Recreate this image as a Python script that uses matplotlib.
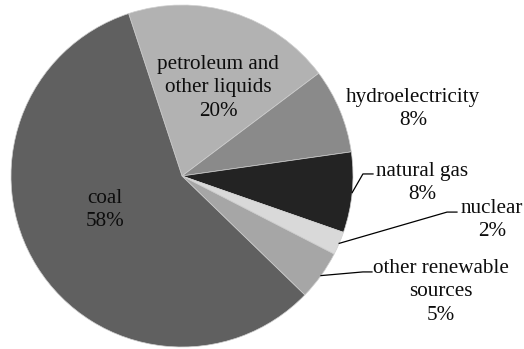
import numpy as np
import matplotlib.pyplot as plt

plt.rcParams['font.family'] = ['Liberation Serif', 'DejaVu Serif']

labels = ['petroleum and\nother liquids', 'hydroelectricity', 'natural gas',
          'nuclear', 'other renewable\nsources', 'coal']
shares = [19.8, 8.0, 7.6, 2.2, 4.7, 57.7]
pct_text = ['20%', '8%', '8%', '2%', '5%', '58%']
colors = ['#b2b2b2', '#8a8a8a', '#232323', '#d9d9d9', '#a6a6a6', '#606060']

# label centres (data units, pie radius = 1)
label_pos = [(0.211, 0.515), (1.351, 0.392), (1.404, -0.041),
             (1.813, -0.257), (1.515, -0.678), (-0.450, -0.199)]
# leader lines: (elbow, end) for the outside labels, None where not used
leaders = [None, None, ((1.058, 0.012), (1.117, 0.012)),
           ((1.550, -0.211), (1.608, -0.211)),
           ((1.058, -0.561), (1.111, -0.561)), None]

fig = plt.figure(figsize=(5.24, 3.49), dpi=100)
ax = fig.add_axes([0, 0, 1, 1])
wedges, _ = ax.pie(shares, colors=colors, startangle=108.2, counterclock=False,
                   radius=1.0, wedgeprops=dict(edgecolor='#cfcfcf', linewidth=0.5))

for i, w in enumerate(wedges):
    mid = np.deg2rad((w.theta1 + w.theta2) / 2)
    x, y = label_pos[i]
    ax.text(x, y, labels[i] + '\n' + pct_text[i], ha='center', va='center',
            fontsize=15.2, color='#0d0d0d', linespacing=1.3)
    if leaders[i] is not None:
        (ex, ey), (tx, ty) = leaders[i]
        ax.plot([np.cos(mid), ex, tx], [np.sin(mid), ey, ty], color='black', lw=0.9)

ax.set_xlim(-182 / 171, (524 - 182) / 171)
ax.set_ylim((176 - 349) / 171, 176 / 171)
ax.set_aspect('equal')
ax.axis('off')
fig.savefig('out.png', dpi=100)
